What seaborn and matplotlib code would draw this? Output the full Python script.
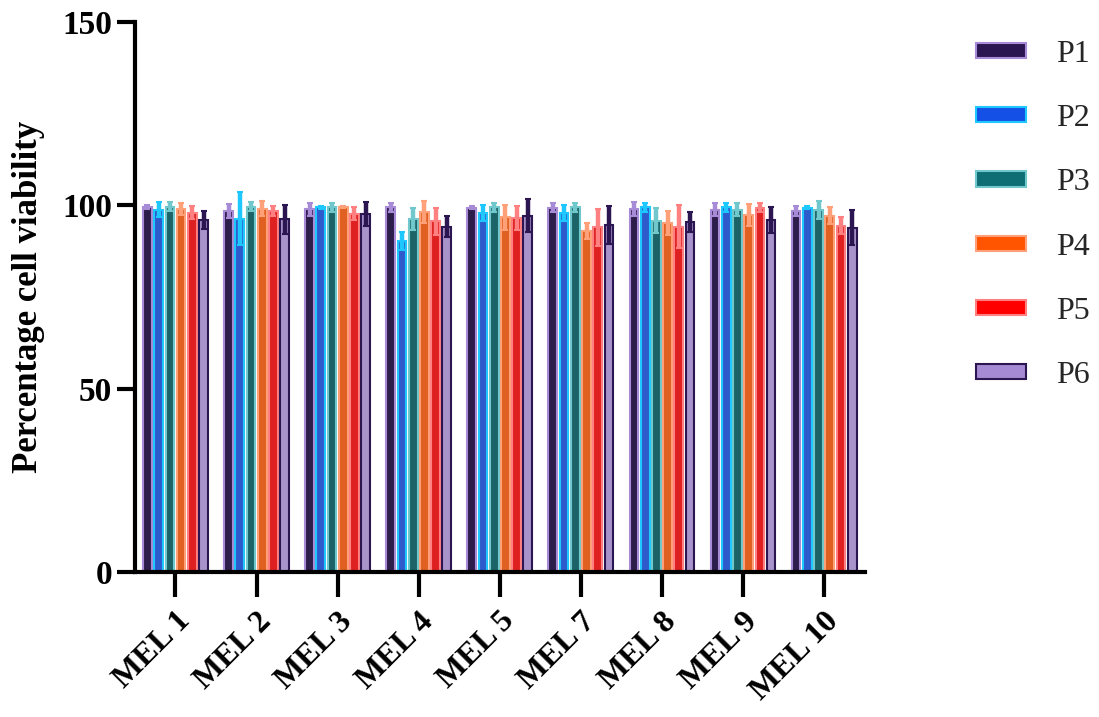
import numpy as np
import pandas as pd
import matplotlib
matplotlib.use('Agg')
import matplotlib.pyplot as plt
import seaborn as sns
from matplotlib.patches import Patch

# values (mean and SD, % viability)
lines = ['MEL 1', 'MEL 2', 'MEL 3', 'MEL 4', 'MEL 5', 'MEL 7', 'MEL 8', 'MEL 9', 'MEL 10']
groups = ['P1', 'P2', 'P3', 'P4', 'P5', 'P6']

p1_mean = [99.5, 98.5, 98.9, 99.5, 99.4, 99.4, 98.9, 98.8, 98.4]
p1_sd = [0.5, 1.9, 1.8, 1.2, 0.4, 1.2, 1.9, 1.8, 1.4]
p2_mean = [98.8, 96.4, 99.5, 90.2, 98.0, 98.0, 99.5, 99.5, 99.4]
p2_sd = [2.1, 7.2, 0.4, 2.5, 2.2, 2.2, 1.2, 1.2, 0.5]
p3_mean = [99.6, 99.6, 99.5, 96.3, 99.5, 99.5, 95.8, 98.8, 98.8]
p3_sd = [1.2, 1.2, 1.2, 2.9, 1.2, 1.2, 3.4, 1.8, 2.5]
p4_mean = [99.0, 99.1, 99.6, 98.2, 96.8, 93.1, 95.2, 97.5, 97.2]
p4_sd = [1.6, 2.0, 0.2, 3.0, 3.4, 2.2, 3.2, 3.0, 2.4]
p5_mean = [98.0, 98.4, 97.7, 95.6, 96.6, 94.0, 94.2, 99.4, 94.5]
p5_sd = [1.7, 1.3, 1.8, 3.7, 3.2, 5.1, 5.8, 1.3, 2.4]
p6_mean = [96.0, 96.2, 97.6, 94.2, 97.2, 94.6, 95.4, 96.0, 93.9]
p6_sd = [2.4, 4.0, 3.3, 2.9, 4.4, 5.2, 2.7, 3.5, 4.8]

face_colors = ['#2b1652', '#1450e6', '#0e6e73', '#ff5500', '#ff0000', '#a68bd4']
edge_colors = ['#a88bd6', '#1ec8ff', '#70c8cc', '#ffa078', '#ff8080', '#2b1652']

means = [p1_mean, p2_mean, p3_mean, p4_mean, p5_mean, p6_mean]
sds = [p1_sd, p2_sd, p3_sd, p4_sd, p5_sd, p6_sd]

df = pd.DataFrame({
    'line': np.tile(lines, len(groups)),
    'group': np.repeat(groups, len(lines)),
    'mean': np.concatenate(means),
    'sd': np.concatenate(sds),
})

sns.set_style('ticks')
plt.rcParams['font.family'] = ['Liberation Serif', 'DejaVu Serif']

fig = plt.figure(figsize=(10.99, 7.17), dpi=100)
ax = fig.add_axes([0.1228, 0.2022, 0.664, 0.7671])

sns.barplot(data=df, x='line', y='mean', hue='group', order=lines, hue_order=groups,
            palette=face_colors, errorbar=None, width=0.83, gap=0.22,
            linewidth=1.5, legend=False, ax=ax)

# per-group edge colour + error bars in the edge colour
bar_conts = list(ax.containers)
for i, cont in enumerate(bar_conts):
    xs = []
    for bar in cont.patches:
        bar.set_edgecolor(edge_colors[i])
        xs.append(bar.get_x() + bar.get_width() / 2)
    ax.errorbar(xs, means[i], yerr=sds[i], fmt='none', ecolor=edge_colors[i],
                elinewidth=3.2, capsize=2.5, capthick=1.5, zorder=3)

ax.set_ylim(0, 150)
ax.set_xlim(-0.5, len(lines) - 0.5)
ax.set_yticks([0, 50, 100, 150])
ax.set_xlabel('')
ax.set_ylabel('Percentage cell viability', fontsize=25, fontweight='bold', labelpad=12, color='black')

for side in ['left', 'bottom']:
    ax.spines[side].set_linewidth(3)
    ax.spines[side].set_color('black')
sns.despine(ax=ax)
ax.tick_params(axis='y', width=3, length=13, labelsize=24, colors='black')
ax.tick_params(axis='x', width=3, length=18, labelsize=23, colors='black', pad=7)
for lab in ax.get_yticklabels():
    lab.set_fontweight('bold')
for lab in ax.get_xticklabels():
    lab.set_fontweight('bold')
    lab.set_rotation(45)
    lab.set_ha('right')
    lab.set_rotation_mode('anchor')

handles = [Patch(facecolor=f, edgecolor=e, linewidth=1.5) for f, e in zip(face_colors, edge_colors)]
fig.legend(handles, groups, loc='upper left', bbox_to_anchor=(0.862, 0.984), frameon=False,
           fontsize=23, handlelength=1.55, handleheight=0.35, labelspacing=1.1, handletextpad=0.95)

fig.savefig('out.png', dpi=100)
